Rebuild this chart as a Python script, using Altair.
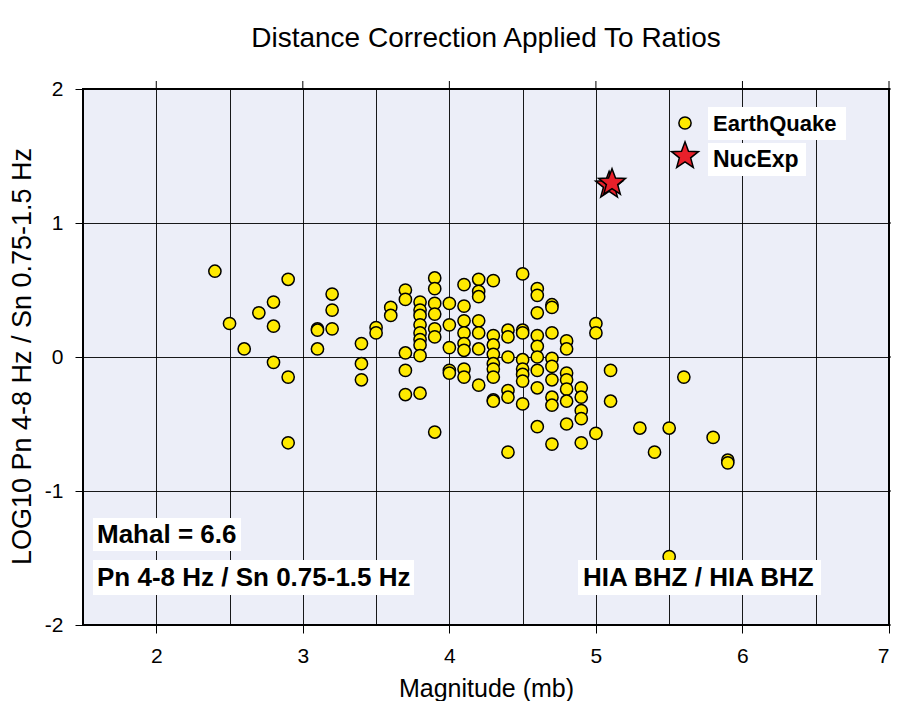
import altair as alt
import pandas as pd

# ---- data ----
eq_mag = [2.4, 2.5, 2.6, 2.7, 2.8, 2.8, 2.8, 2.9, 2.9, 2.9,
          3.1, 3.1, 3.1, 3.2, 3.2, 3.2,
          3.4, 3.4, 3.4, 3.5, 3.5, 3.6, 3.6,
          3.7, 3.7, 3.7, 3.7, 3.7,
          3.8, 3.8, 3.8, 3.8, 3.8, 3.8, 3.8, 3.8, 3.8,
          3.9, 3.9, 3.9, 3.9, 3.9, 3.9, 3.9,
          4.0, 4.0, 4.0, 4.0, 4.0,
          4.1, 4.1, 4.1, 4.1, 4.1, 4.1, 4.1, 4.1,
          4.2, 4.2, 4.2, 4.2, 4.2, 4.2, 4.2,
          4.3, 4.3, 4.3, 4.3, 4.3, 4.3, 4.3, 4.3, 4.3,
          4.4, 4.4, 4.4, 4.4, 4.4, 4.4,
          4.5, 4.5, 4.5, 4.5, 4.5, 4.5, 4.5, 4.5,
          4.6, 4.6, 4.6, 4.6, 4.6, 4.6, 4.6, 4.6, 4.6,
          4.7, 4.7, 4.7, 4.7, 4.7, 4.7, 4.7, 4.7, 4.7,
          4.8, 4.8, 4.8, 4.8, 4.8, 4.8, 4.8,
          4.9, 4.9, 4.9, 4.9, 4.9,
          5.0, 5.0, 5.0,
          5.1, 5.1,
          5.3, 5.4, 5.5, 5.5, 5.6, 5.8, 5.9, 5.9]
eq_ratio = [0.64, 0.25, 0.06, 0.33, 0.41, 0.23, -0.04, 0.58, -0.15, -0.64,
            0.21, 0.20, 0.06, 0.47, 0.35, 0.21,
            0.10, -0.05, -0.17, 0.22, 0.18, 0.37, 0.31,
            0.50, 0.43, 0.03, -0.10, -0.28,
            0.41, 0.35, 0.31, 0.24, 0.18, 0.13, 0.09, 0.01, -0.27,
            0.59, 0.51, 0.40, 0.32, 0.21, 0.15, -0.56,
            0.40, 0.24, 0.07, -0.10, -0.12,
            0.54, 0.38, 0.27, 0.18, 0.10, 0.05, -0.09, -0.15,
            0.58, 0.49, 0.45, 0.27, 0.18, 0.06, -0.21,
            0.57, 0.16, 0.09, 0.02, -0.05, -0.09, -0.15, -0.32, -0.33,
            0.20, 0.15, 0.00, -0.25, -0.30, -0.71,
            0.62, 0.20, 0.18, -0.02, -0.09, -0.13, -0.18, -0.35,
            0.51, 0.46, 0.33, 0.16, 0.08, 0.00, -0.10, -0.23, -0.52,
            0.39, 0.37, 0.18, -0.01, -0.07, -0.17, -0.30, -0.36, -0.65,
            0.12, 0.06, -0.12, -0.17, -0.24, -0.33, -0.50,
            -0.23, -0.30, -0.40, -0.46, -0.64,
            0.25, 0.18, -0.57,
            -0.10, -0.33,
            -0.53, -0.71, -0.53, -1.49, -0.15, -0.60, -0.77, -0.79]
nuc_mag = [5.09, 5.11]
nuc_ratio = [1.28, 1.30]

legend_labels = ["EarthQuake", "NucExp"]
annot_left = ["Mahal = 6.6", "Pn 4-8 Hz / Sn 0.75-1.5 Hz"]
annot_right = "HIA BHZ / HIA BHZ"

x_ticks = [2, 3, 4, 5, 6, 7]
x_grid = [1.5, 2, 2.5, 3, 3.5, 4, 4.5, 5, 5.5, 6, 6.5, 7]
y_ticks = [-2, -1, 0, 1, 2]

eq_df = pd.DataFrame({"mag": eq_mag, "ratio": eq_ratio})
nuc_df = pd.DataFrame({"mag": nuc_mag, "ratio": nuc_ratio})

W, H = 806, 536
FONT = "Liberation Sans"
YELLOW = "#ffea00"
RED = "#e8202a"
STAR = ("M0,-1L0.247,-0.340L0.951,-0.309L0.400,0.130L0.588,0.809L0,0.420"
        "L-0.588,0.809L-0.400,0.130L-0.951,-0.309L-0.247,-0.340Z")
xs = alt.Scale(domain=[1.5, 7], nice=False, zero=False)
ys = alt.Scale(domain=[-2, 2], nice=False, zero=False)
HALF = "datum.value % 1 !== 0"

eq_layer = alt.Chart(eq_df).mark_point(
    shape="circle", filled=True, fill=YELLOW, stroke="black", strokeWidth=1.5,
    size=150, opacity=1
).encode(
    x=alt.X("mag:Q", scale=xs, axis=alt.Axis(
        values=x_grid, grid=True, orient="bottom", tickSize=8, tickColor="black",
        tickOpacity={"condition": {"test": HALF, "value": 0}, "value": 1},
        labelExpr="datum.value % 1 === 0 ? '' + datum.value : ''",
        labelFontSize=21, labelPadding=12, labelColor="black", labelFont=FONT,
        domain=False, title="Magnitude (mb)", titleFontSize=25, titleFontWeight="normal",
        titleFont=FONT, titleColor="black", titleY=63, titleBaseline="middle")),
    y=alt.Y("ratio:Q", scale=ys, axis=alt.Axis(
        values=y_ticks, grid=True, orient="left", tickSize=8, tickColor="black",
        labelFontSize=21, labelPadding=12, labelColor="black", labelFont=FONT,
        labelExpr="'' + datum.value",
        domain=False, title="LOG10 Pn 4-8 Hz / Sn 0.75-1.5 Hz", titleFontSize=27,
        titleFontWeight="normal", titleFont=FONT, titleColor="black",
        titleX=-61, titleY=H / 2 - 1, titleBaseline="middle", titleAlign="center", titleAngle=270)),
)

nuc_layer = alt.Chart(nuc_df).mark_point(
    shape=STAR, filled=True, fill=RED, stroke="black", strokeWidth=1.5,
    size=800, opacity=1
).encode(
    x=alt.X("mag:Q", scale=xs),
    y=alt.Y("ratio:Q", scale=ys),
)

# ticks on the top and right edges, placed through the scales
top_ticks = alt.Chart(pd.DataFrame({"v": x_ticks})).mark_rule(color="black", strokeWidth=1).encode(
    x=alt.X("v:Q", scale=xs), y=alt.value(-8), y2=alt.value(0))
right_ticks = alt.Chart(pd.DataFrame({"v": y_ticks})).mark_rule(color="black", strokeWidth=1).encode(
    y=alt.Y("v:Q", scale=ys), x=alt.value(W), x2=alt.value(W + 8))

# ---- annotation boxes (white) and texts, placed in pixels of the plot area ----
def box(x1, x2, y1, y2):
    return alt.Chart(pd.DataFrame({"k": [0]})).mark_rect(fill="white").encode(
        x=alt.value(x1), x2=alt.value(x2), y=alt.value(y1), y2=alt.value(y2))

def label(text, x, y, size):
    return alt.Chart(pd.DataFrame({"t": [text]})).mark_text(
        align="left", baseline="middle", font=FONT, fontWeight="bold", fontSize=size, color="black"
    ).encode(text="t:N", x=alt.value(x), y=alt.value(y))

def symbol(shape, fill, size, x, y):
    return alt.Chart(pd.DataFrame({"k": [0]})).mark_point(
        shape=shape, filled=True, fill=fill, stroke="black", strokeWidth=1.5, size=size, opacity=1
    ).encode(x=alt.value(x), y=alt.value(y))

annots = [
    box(10, 158, 429, 462), box(10, 331, 471, 506), box(495, 738, 471, 506),
    box(625, 763, 18, 51), box(625, 723, 54, 87),
    label(annot_left[0], 14, 446, 26), label(annot_left[1], 14, 489, 26),
    label(annot_right, 500, 489, 26),
    label(legend_labels[0], 630, 35, 22), label(legend_labels[1], 630, 71, 23),
    symbol("circle", YELLOW, 150, 602, 34), symbol(STAR, RED, 800, 602, 67),
]

chart = alt.layer(
    eq_layer, nuc_layer, top_ticks, right_ticks, *annots
).properties(
    width=W, height=H,
    autosize="none",
    padding={"left": 75, "top": 81, "right": 2, "bottom": 76},
    title=alt.TitleParams("Distance Correction Applied To Ratios", fontSize=28, font=FONT,
                          fontWeight="normal", color="black", anchor="middle", offset=25),
).configure_view(
    fill="#eceef8", stroke="black", strokeWidth=2
).configure_axis(
    gridColor="black", gridWidth=1, gridOpacity=0.9, tickWidth=1
)

chart.save("out.html", embed_options={"renderer": "svg", "actions": False})
